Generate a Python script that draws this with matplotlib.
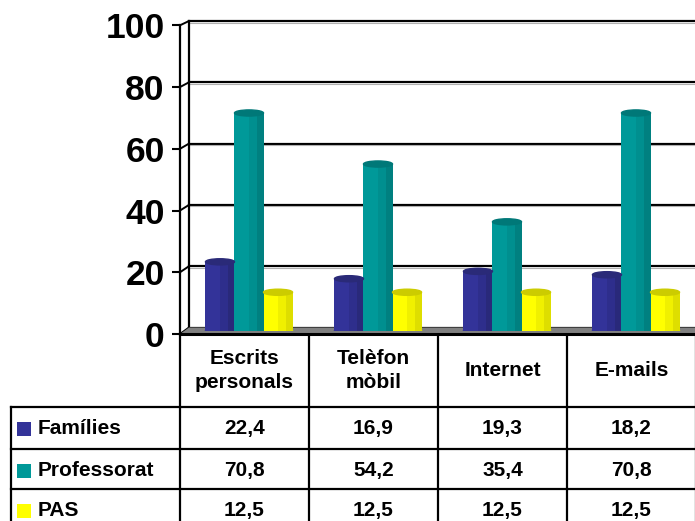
import matplotlib
matplotlib.use("Agg")
import matplotlib.pyplot as plt
from matplotlib.patches import Ellipse, Polygon, Rectangle, ConnectionPatch
from matplotlib.transforms import IdentityTransform

plt.rcParams['font.family'] = ['Liberation Sans', 'DejaVu Sans']
plt.rcParams['font.weight'] = 'bold'

# data
categories = ["Escrits\npersonals", "Telèfon\nmòbil", "Internet", "E-mails"]
series = ["Famílies", "Professorat", "PAS"]
families = [22.4, 16.9, 19.3, 18.2]
professorat = [70.8, 54.2, 35.4, 70.8]
pas = [12.5, 12.5, 12.5, 12.5]
yticks = [0, 20, 40, 60, 80, 100]

values = [families, professorat, pas]
base_cols = ['#333399', '#009999', '#ffff00']
mid_cols = ['#2e2e8c', '#008f8f', '#f0f000']
dark_cols = ['#29297a', '#008080', '#dede00']
top_cols = ['#2a2a78', '#007878', '#cccc00']

W, H = 695, 521
fig = plt.figure(figsize=(W / 100, H / 100), dpi=100)


def box(left, top, width, height):
    return [left / W, 1 - (top + height) / H, width / W, height / H]


col_left, col_w = 180, 129
n = len(categories)

back = fig.add_axes(box(189, 21, col_w * n, 306.5))
mid = fig.add_axes(box(184.5, 23.2, col_w * n, 307.5))
front = fig.add_axes(box(180, 25.3, col_w * n, 308.7))
tab = fig.add_axes([0, 0, 1, 1])

for a in (back, mid, front):
    a.set_xlim(0, n)
    a.set_ylim(0, 100)
    a.patch.set_alpha(0)
    for s in a.spines.values():
        s.set_visible(False)
    a.set_xticks([])
    a.set_yticks([])

back.set_zorder(0)
mid.set_zorder(1)
front.set_zorder(2)
tab.set_zorder(0.5)

# back wall grid
for v in yticks:
    back.axhline(v, color='black', lw=1.6, clip_on=False)
    back.axhline(v - 0.5, color='#b0b0b0', lw=0.8, clip_on=False)
back.spines['left'].set_visible(True)
back.spines['left'].set_linewidth(1.6)

# side wall lines
for v in yticks:
    con = ConnectionPatch((0, v), (0, v), coordsA=front.transData,
                          coordsB=back.transData, color='black', lw=1.4)
    fig.add_artist(con)

# floor
fl = front.transData.transform([(0, 0), (n, 0)])
bl = back.transData.transform([(n, 0), (0, 0)])
floor = Polygon([fl[0], fl[1], bl[0], bl[1]], closed=True, transform=IdentityTransform(),
                facecolor='#808080', edgecolor='none', zorder=0, clip_on=False)
mid.add_patch(floor)

# front axis
front.spines['left'].set_visible(True)
front.spines['left'].set_linewidth(1.6)
front.set_yticks(yticks)
front.tick_params(axis='y', length=5.5, width=1.5, pad=5.5, labelsize=25.5)
for lab in front.get_yticklabels():
    lab.set_fontweight('bold')
front.axhline(0, color='black', lw=2.2, clip_on=False)

# cylinders
w = 0.225
eh = 2.0
for j, vals in enumerate(values):
    for i, v in enumerate(vals):
        x = i + 0.5 + (j - 1) * w
        mid.bar(x, v, width=w, color=base_cols[j], zorder=3)
        mid.bar(x + 0.25 * w, v, width=0.5 * w, color=mid_cols[j], zorder=3)
        mid.bar(x + 0.38 * w, v, width=0.24 * w, color=dark_cols[j], zorder=3)
        mid.add_patch(Ellipse((x, 0), w, eh, color=dark_cols[j], zorder=2.5))
        mid.add_patch(Ellipse((x, v), w, eh, color=top_cols[j], zorder=4))

# data table
tab.set_xlim(0, W)
tab.set_ylim(H, 0)
tab.axis('off')
tab.patch.set_alpha(0)

head_top, head_bot = 334, 407
row_tops = [407, 449, 489]
row_h = 41
tab_left = 11
lw = 1.6

for y in row_tops:
    tab.plot([tab_left, W], [y, y], color='black', lw=lw)
tab.plot([tab_left, tab_left], [head_bot, H], color='black', lw=lw)
for k in range(n + 1):
    x = col_left + col_w * k
    tab.plot([x, x], [head_top, H], color='black', lw=lw)

fs = 15
for i, c in enumerate(categories):
    tab.text(col_left + col_w * (i + 0.5), (head_top + head_bot) / 2, c,
             ha='center', va='center', fontsize=fs, fontweight='bold', linespacing=1.35)

for r, (name, vals) in enumerate(zip(series, values)):
    yc = row_tops[r] + row_h / 2 + 1
    tab.add_patch(Rectangle((17, yc - 7), 14, 14, facecolor=base_cols[r], edgecolor='none'))
    tab.text(38, yc, name, ha='left', va='center', fontsize=fs, fontweight='bold')
    for i, v in enumerate(vals):
        tab.text(col_left + col_w * (i + 0.5), yc, f"{v:.1f}".replace('.', ','),
                 ha='center', va='center', fontsize=fs, fontweight='bold')

fig.savefig('out.png', dpi=100)
